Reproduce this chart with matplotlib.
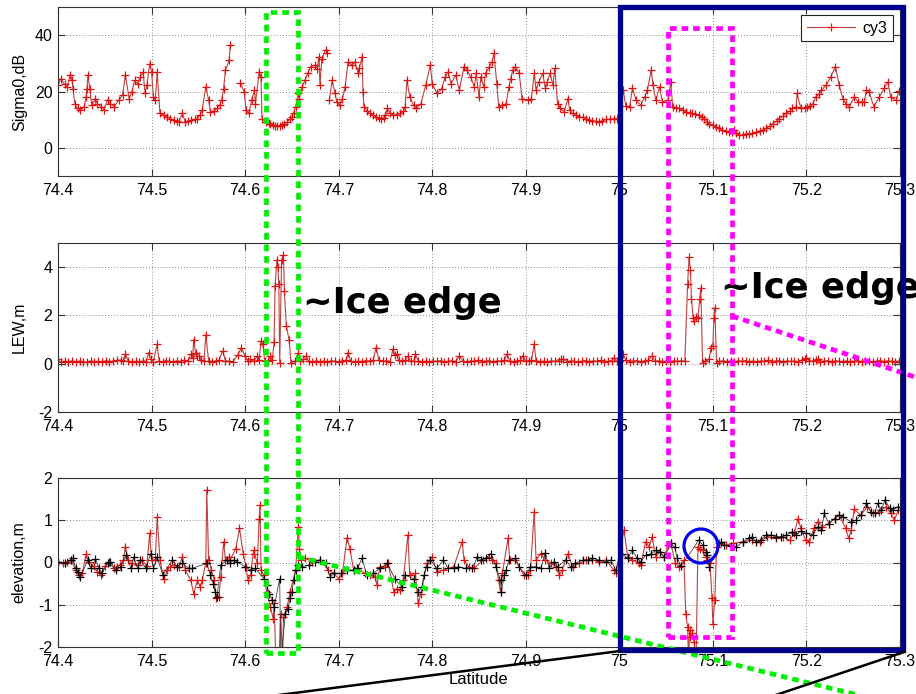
import numpy as np
import matplotlib
matplotlib.use("Agg")
import matplotlib.pyplot as plt
from matplotlib.lines import Line2D
from matplotlib.patches import Rectangle, Ellipse

plt.rcParams['font.family'] = ['Liberation Sans', 'DejaVu Sans']
plt.rcParams['axes.unicode_minus'] = False

# ---------------- track data (cycle 3) ----------------
nan = np.nan
sigma_lat = [
    74.400, 74.403, 74.407, 74.410, 74.413, 74.415, 74.416, 74.418, 74.421, 74.424,
    74.428, 74.430, 74.431, 74.432, 74.434, 74.436, 74.440, 74.442, 74.446, 74.449,
    74.453, 74.456, 74.460, 74.465, 74.469, 74.472, 74.476, 74.479, 74.482, 74.485,
    74.488, 74.491, 74.493, 74.495, 74.498, 74.500, 74.502, 74.504, 74.506, 74.509,
    74.513, 74.517, 74.520, 74.524, 74.527, 74.529, 74.533, 74.536, 74.539, 74.542,
    74.546, 74.549, 74.552, 74.554, 74.558, 74.561, 74.563, 74.567, 74.570, 74.573,
    74.575, 74.577, 74.579, 74.583, 74.584, 74.589, 74.595, 74.599, 74.601, 74.604,
    74.607, 74.610, 74.611, 74.615, 74.617, 74.618, 74.622, 74.625, 74.627, 74.630,
    74.632, 74.634, 74.637, 74.639, 74.642, 74.645, 74.648, 74.650, 74.652, 74.654,
    74.657, 74.658, 74.661, 74.664, 74.667, 74.670, 74.675, 74.677, 74.679, 74.680,
    74.682, 74.686, 74.688, 74.689, 74.690, 74.693, 74.696, 74.698, 74.701, 74.704,
    74.707, 74.710, 74.714, 74.717, 74.721, 74.722, 74.725, 74.726, 74.727, 74.730,
    74.733, 74.737, 74.740, 74.743, 74.745, 74.748, 74.750, 74.752, 74.755, 74.758,
    74.762, 74.766, 74.769, 74.771, 74.773, 74.776, 74.780, 74.783, 74.788, 74.793,
    74.798, 74.800, 74.805, 74.810, 74.814, 74.817, 74.820, 74.825, 74.829, 74.834,
    74.837, 74.841, 74.845, 74.847, 74.850, 74.852, 74.855, 74.857, 74.861, 74.864,
    74.866, 74.869, 74.871, 74.875, 74.879, 74.882, 74.884, 74.886, 74.889, 74.893,
    74.896, 74.902, 74.906, 74.909, 74.911, 74.914, 74.918, 74.921, 74.923, 74.926,
    74.929, 74.931, 74.934, 74.937, 74.941, 74.945, 74.947, 74.950, 74.954, 74.957,
    74.961, 74.964, 74.968, 74.971, 74.975, 74.978, 74.982, 74.986, 74.990, 74.994,
    74.998, 75.004, 75.007, 75.011, 75.014, 75.018, 75.023, 75.027, 75.030, 75.034,
    75.036, 75.039, 75.043, 75.046, 75.052, 75.055, 75.057, 75.061, 75.064, 75.068,
    75.071, 75.075, 75.078, 75.081, 75.085, 75.088, 75.091, 75.094, 75.096, 75.100,
    75.103, 75.107, 75.110, 75.114, 75.117, 75.120, 75.123, 75.125, 75.128, 75.132,
    75.135, 75.139, 75.142, 75.146, 75.150, 75.154, 75.157, 75.161, 75.164, 75.168,
    75.171, 75.175, 75.178, 75.182, 75.185, 75.189, 75.190, 75.194, 75.198, 75.201,
    75.204, 75.207, 75.210, 75.213, 75.216, 75.221, 75.226, 75.231, 75.235, 75.239,
    75.242, 75.246, 75.251, 75.255, 75.259, 75.262, 75.264, 75.267, 75.272, 75.278,
    75.283, 75.287, 75.290, 75.296, 75.299,
]
sigma0 = [
    22.2, 24.6, 22.5, 21.7, 26.0, 24.0, 21.0, 15.7, 14.0, 13.4,
    14.6, 18.0, 21.0, 25.8, 21.0, 15.1, 17.5, 15.7, 14.6, 13.6,
    17.0, 15.7, 14.6, 17.0, 18.7, 25.8, 17.5, 19.9, 24.0, 22.8,
    25.2, 27.0, 19.3, 22.2, 29.9, 27.0, 18.1, 17.0, 27.0, 12.2,
    11.5, 11.0, 10.3, 9.8, 9.4, 9.2, 12.2, 9.2, 9.5, 9.8,
    10.1, 10.4, 11.8, 13.4, 21.7, 17.0, 12.8, 13.2, 14.0, 15.2,
    17.0, 21.0, 27.6, 31.1, 36.4, nan, 23.1, 19.9, 13.4, 12.2,
    17.0, 20.5, 15.7, 27.0, 25.2, 10.4, 9.2, 8.9, 8.6, 8.2,
    7.9, 7.7, 7.6, 8.0, 8.6, 9.2, 10.2, 11.0, 12.5, 14.6,
    19.3, 17.5, 21.7, 24.0, 26.5, 28.8, 29.4, 28.0, 32.3, 22.2,
    31.7, 34.7, 33.5, nan, 16.9, 24.0, 19.5, 16.3, 15.1, 17.5,
    21.7, 30.5, 29.4, 30.5, 26.4, 28.2, 32.3, 19.9, 14.6, 13.2,
    12.2, 11.5, 11.0, 10.5, 10.2, 10.6, 11.6, 14.0, 12.4, 11.6,
    11.8, 12.2, 13.0, 14.6, 24.0, 18.1, 15.1, 14.0, 15.7, 22.2,
    29.4, 22.8, 19.3, 21.0, 25.2, 27.0, 22.8, 25.8, 20.5, 28.8,
    27.6, 25.2, 21.7, 26.4, 18.1, 25.2, 21.7, 26.4, 28.8, 30.5,
    33.5, 22.8, 14.6, 15.1, 15.7, 21.7, 24.6, 27.6, 28.8, 26.4,
    17.5, 16.9, 17.5, 26.4, 20.5, 23.4, 26.4, 21.1, 23.4, 26.4,
    22.2, 28.2, 15.7, 14.0, 12.8, 17.5, 13.4, 12.2, 11.5, 11.0,
    10.8, 10.4, 10.0, 9.6, 9.4, 9.2, 9.6, 10.1, 10.2, 10.4,
    10.4, 20.5, 14.8, 14.6, 21.1, 16.9, 15.1, 18.1, 20.5, 27.6,
    22.2, 16.9, 21.7, 16.3, 16.9, 23.4, 14.6, 14.3, 14.0, 13.4,
    12.8, 12.5, 12.2, 12.0, 11.6, 11.0, 10.4, 9.2, 8.4, 8.0,
    7.5, 6.9, 6.3, 6.0, 5.7, 5.5, 6.3, 5.2, 4.5, 4.6,
    4.9, 5.0, 5.1, 5.5, 6.0, 6.4, 6.9, 7.8, 8.6, 9.5,
    10.4, 11.3, 12.2, 13.1, 14.0, 14.6, 19.3, 14.0, 14.3, 14.6,
    15.0, 15.7, 18.1, 19.0, 20.5, 22.2, 25.2, 28.8, 22.2, 17.5,
    15.7, 14.6, 18.1, 16.3, 16.3, 16.3, 20.5, 19.9, 14.6, 18.1,
    21.1, 23.4, 18.1, 16.9, 20.2,
]

lew_lat = [
    74.400, 74.403, 74.407, 74.411, 74.415, 74.419, 74.423, 74.427, 74.431, 74.435,
    74.439, 74.443, 74.447, 74.451, 74.455, 74.459, 74.463, 74.467, 74.470, 74.472,
    74.475, 74.479, 74.483, 74.487, 74.491, 74.494, 74.497, 74.499, 74.502, 74.506,
    74.508, 74.512, 74.515, 74.519, 74.523, 74.527, 74.531, 74.535, 74.539, 74.542,
    74.544, 74.545, 74.547, 74.549, 74.551, 74.553, 74.556, 74.558, 74.561, 74.565,
    74.569, 74.572, 74.576, 74.579, 74.583, 74.587, 74.592, 74.596, 74.600, 74.603,
    74.605, 74.609, 74.613, 74.615, 74.617, 74.619, 74.621, 74.624, 74.627, 74.629,
    74.631, 74.632, 74.634, 74.635, 74.636, 74.637, 74.639, 74.641, 74.642, 74.644,
    74.647, 74.649, 74.653, 74.657, 74.659, 74.662, 74.665, 74.668, 74.672, 74.676,
    74.680, 74.684, 74.688, 74.692, 74.696, 74.700, 74.704, 74.708, 74.710, 74.713,
    74.717, 74.721, 74.725, 74.729, 74.733, 74.737, 74.740, 74.743, 74.747, 74.751,
    74.755, 74.758, 74.760, 74.762, 74.764, 74.768, 74.771, 74.774, 74.777, 74.780,
    74.782, 74.785, 74.789, 74.793, 74.797, 74.801, 74.805, 74.809, 74.813, 74.817,
    74.821, 74.825, 74.829, 74.833, 74.837, 74.841, 74.845, 74.849, 74.853, 74.857,
    74.861, 74.865, 74.869, 74.873, 74.877, 74.880, 74.883, 74.887, 74.891, 74.894,
    74.897, 74.900, 74.903, 74.906, 74.909, 74.911, 74.915, 74.919, 74.923, 74.927,
    74.931, 74.935, 74.938, 74.940, 74.944, 74.948, 74.952, 74.956, 74.960, 74.964,
    74.968, 74.972, 74.976, 74.980, 74.984, 74.988, 74.992, 74.994, 74.997, 75.001,
    75.004, 75.007, 75.011, 75.015, 75.019, 75.023, 75.027, 75.031, 75.035, 75.038,
    75.042, 75.046, 75.050, 75.054, 75.058, 75.062, 75.066, 75.070, 75.073, 75.0745,
    75.076, 75.077, 75.079, 75.080, 75.082, 75.084, 75.086, 75.087, 75.089, 75.092,
    75.096, 75.098, 75.100, 75.101, 75.102, 75.104, 75.107, 75.111, 75.115, 75.119,
    75.123, 75.127, 75.131, 75.135, 75.139, 75.143, 75.147, 75.151, 75.155, 75.159,
    75.163, 75.167, 75.171, 75.175, 75.179, 75.183, 75.187, 75.191, 75.195, 75.198,
    75.200, 75.203, 75.207, 75.210, 75.212, 75.215, 75.219, 75.223, 75.227, 75.231,
    75.235, 75.239, 75.243, 75.247, 75.251, 75.255, 75.259, 75.263, 75.267, 75.271,
    75.275, 75.279, 75.283, 75.287, 75.291, 75.295, 75.299,
]
lew = [
    0.18, 0.06, 0.10, 0.08, 0.12, 0.07, 0.11, 0.09, 0.06, 0.12,
    0.08, 0.10, 0.07, 0.13, 0.09, 0.11, 0.14, 0.16, 0.10, 0.40,
    0.12, 0.08, 0.10, 0.06, 0.12, 0.09, 0.46, 0.20, 0.09, 0.80,
    0.11, 0.07, 0.13, 0.10, 0.08, 0.12, 0.09, 0.14, 0.10, 0.40,
    0.25, 1.00, 0.45, 0.32, 0.30, 0.15, 0.10, 1.20, 0.12, 0.09,
    0.11, 0.14, 0.53, 0.12, 0.10, 0.08, 0.35, 0.67, 0.30, 0.12,
    0.18, 0.10, 0.32, 0.15, 0.95, 0.80, 0.10, 0.12, 0.30, 0.15,
    0.88, 3.20, 4.30, 4.00, 3.30, 0.02, 4.30, 4.50, 3.00, 1.57,
    1.00, 0.04, 0.10, 0.46, 0.12, 0.18, 0.30, 0.10, 0.08, 0.12,
    0.09, 0.11, 0.07, 0.13, 0.10, 0.08, 0.12, 0.15, 0.46, 0.10,
    0.07, 0.11, 0.09, 0.13, 0.10, 0.16, 0.67, 0.14, 0.10, 0.12,
    0.09, 0.60, 0.35, 0.40, 0.15, 0.11, 0.14, 0.32, 0.12, 0.10,
    0.40, 0.13, 0.09, 0.11, 0.08, 0.12, 0.10, 0.13, 0.08, 0.10,
    0.12, 0.09, 0.32, 0.11, 0.08, 0.12, 0.10, 0.14, 0.09, 0.11,
    0.13, 0.08, 0.12, 0.10, 0.14, 0.40, 0.11, 0.09, 0.12, 0.15,
    0.32, 0.12, 0.10, 0.14, 0.80, 0.12, 0.09, 0.11, 0.08, 0.12,
    0.10, 0.13, 0.18, 0.20, 0.09, 0.12, 0.10, 0.07, 0.11, 0.13,
    0.09, 0.12, 0.10, 0.14, 0.08, 0.11, 0.13, 0.25, 0.10, 0.12,
    0.40, 0.14, 0.09, 0.11, 0.13, 0.08, 0.12, 0.15, 0.32, 0.10,
    0.12, 0.09, 0.11, 0.08, 0.12, 0.10, 0.13, 0.10, 3.30, 4.40,
    3.90, 2.70, 1.90, 1.75, 1.95, 1.90, 2.70, 3.15, 0.04, 0.10,
    0.18, 0.67, 0.74, 1.90, 2.30, 0.04, 0.10, 0.12, 0.09, 0.11,
    0.08, 0.12, 0.10, 0.13, 0.09, 0.11, 0.08, 0.12, 0.10, 0.14,
    0.09, 0.11, 0.13, 0.08, 0.12, 0.10, 0.11, 0.09, 0.14, 0.18,
    0.25, 0.12, 0.10, 0.14, 0.18, 0.09, 0.11, 0.13, 0.08, 0.12,
    0.10, 0.09, 0.12, 0.08, 0.11, 0.13, 0.09, 0.12, 0.10, 0.08,
    0.11, 0.13, 0.09, 0.12, 0.10, 0.08, 0.11,
]

# raw elevation (red) and retracked/corrected elevation (black)
elev_lat = [
    74.400, 74.405, 74.410, 74.414, 74.419, 74.422, 74.426, 74.430, 74.433, 74.438,
    74.442, 74.446, 74.450, 74.454, 74.460, 74.463, 74.466, 74.470, 74.472, 74.475,
    74.479, 74.485, 74.490, 74.495, 74.498, 74.500, 74.504, 74.506, 74.509, 74.513,
    74.517, 74.520, 74.524, 74.529, 74.533, 74.536, 74.542, 74.545, 74.549, 74.552,
    74.554, 74.558, 74.559, 74.561, 74.564, 74.567, 74.569, 74.572, 74.574, 74.577,
    74.579, 74.583, 74.584, 74.590, 74.594, 74.598, 74.601, 74.603, 74.606, 74.609,
    74.610, 74.613, 74.615, 74.616, 74.617, 74.620, 74.623, 74.627, 74.630, 74.631,
    74.633, 74.636, 74.638, 74.640, 74.641, 74.645, 74.648, 74.654, 74.657, 74.658,
    74.660, 74.664, 74.672, 74.680, 74.689, 74.695, 74.700, 74.704, 74.709, 74.712,
    74.716, 74.721, 74.728, 74.734, 74.739, 74.741, 74.744, 74.750, 74.753, 74.759,
    74.762, 74.766, 74.769, 74.774, 74.776, 74.782, 74.785, 74.788, 74.794, 74.800,
    74.805, 74.812, 74.823, 74.832, 74.834, 74.839, 74.845, 74.854, 74.861, 74.864,
    74.868, 74.871, 74.873, 74.875, 74.881, 74.883, 74.889, 74.898, 74.902, 74.905,
    74.909, 74.911, 74.916, 74.921, 74.927, 74.932, 74.936, 74.939, 74.945, 74.950,
    74.957, 74.964, 74.971, 74.978, 74.986, 74.994, 74.996, 75.005, 75.009, 75.014,
    75.021, 75.023, 75.028, 75.032, 75.035, 75.039, 75.043, 75.048, 75.052, 75.055,
    75.060, 75.064, 75.069, 75.071, 75.073, 75.074, 75.075, 75.076, 75.078, 75.080,
    75.082, 75.084, 75.086, 75.089, 75.093, 75.094, 75.097, 75.099, 75.100, 75.102,
    75.104, 75.106, 75.114, 75.121, 75.132, 75.142, 75.150, 75.158, 75.167, 75.175,
    75.182, 75.187, 75.191, 75.194, 75.199, 75.203, 75.208, 75.212, 75.217, 75.224,
    75.230, 75.235, 75.242, 75.245, 75.248, 75.251, 75.258, 75.265, 75.271, 75.278,
    75.285, 75.290, 75.294, 75.298,
]
elev_raw = [
    0.02, -0.02, 0.02, 0.06, -0.18, -0.30, -0.26, 0.19, 0.02, -0.09,
    -0.22, -0.30, -0.09, 0.02, -0.14, -0.10, -0.06, 0.06, 0.37, 0.06,
    -0.02, -0.06, 0.06, -0.09, 0.69, 0.06, 0.06, 1.08, 0.06, -0.38,
    -0.18, -0.10, -0.06, -0.10, 0.13, -0.18, -0.42, -0.74, -0.42, -0.58,
    -0.42, -0.02, 1.72, 0.06, -0.18, -0.42, -0.85, -0.81, -0.34, 0.49,
    0.06, 0.13, 0.06, 0.33, 0.81, 0.21, -0.10, -0.42, -0.30, 0.29,
    0.21, -0.02, 1.04, 1.36, -0.18, -0.30, -0.70, -1.05, -1.33, -0.97,
    -2.40, -2.40, -1.21, -2.40, -1.29, -1.05, -0.70, -0.18, 0.85, 0.33,
    0.06, 0.10, 0.02, 0.06, -0.18, -0.26, -0.38, -0.26, 0.59, 0.33,
    -0.18, -0.14, -0.26, -0.30, -0.34, -0.54, -0.10, -0.10, -0.02, -0.70,
    -0.62, -0.66, -0.42, 0.65, -0.30, -0.26, -0.97, -0.74, -0.02, 0.13,
    -0.22, -0.18, -0.10, 0.49, 0.06, -0.10, -0.14, 0.06, 0.13, 0.06,
    -0.02, -0.42, -0.70, -0.26, 0.57, 0.06, 0.06, -0.30, -0.30, -0.18,
    1.20, 0.06, 0.21, 0.06, -0.02, -0.10, -0.30, -0.18, 0.21, -0.10,
    -0.02, 0.06, 0.06, 0.02, 0.06, -0.18, -0.26, 0.77, 0.13, 0.06,
    -0.02, -0.06, 0.49, 0.37, 0.61, 0.13, 0.25, 0.13, 0.41, 0.45,
    -0.02, -0.10, 0.06, -1.21, -1.53, -2.40, -1.60, -1.76, -1.68, -1.88,
    -2.40, 0.37, 0.33, 0.29, 0.13, 0.06, -0.02, -0.85, -1.45, -0.89,
    0.37, 0.45, 0.41, 0.45, 0.49, 0.53, 0.49, 0.61, 0.57, 0.61,
    0.53, 0.69, 1.04, 0.81, 0.53, 0.49, 0.81, 0.96, 0.85, 0.92,
    1.04, 1.12, 0.81, 0.57, 0.77, 1.26, 1.12, 1.32, 1.16, 1.20,
    1.32, 1.16, 1.00, 1.24,
]

corr_lat = [
    74.400, 74.408, 74.414, 74.416, 74.419, 74.421, 74.424, 74.432, 74.435, 74.440,
    74.444, 74.447, 74.453, 74.456, 74.462, 74.467, 74.473, 74.478, 74.481, 74.485,
    74.488, 74.494, 74.499, 74.502, 74.506, 74.512, 74.522, 74.527, 74.533, 74.540,
    74.543, 74.559, 74.563, 74.566, 74.568, 74.570, 74.574, 74.581, 74.584, 74.588,
    74.591, 74.600, 74.606, 74.611, 74.620, 74.623, 74.626, 74.629, 74.631, 74.637,
    74.638, 74.643, 74.646, 74.648, 74.650, 74.652, 74.654, 74.657, 74.661, 74.668,
    74.675, 74.680, 74.686, 74.691, 74.695, 74.702, 74.709, 74.716, 74.720, 74.725,
    74.730, 74.737, 74.744, 74.752, 74.760, 74.768, 74.771, 74.780, 74.785, 74.789,
    74.791, 74.794, 74.798, 74.805, 74.812, 74.817, 74.823, 74.828, 74.836, 74.843,
    74.848, 74.852, 74.857, 74.863, 74.868, 74.873, 74.874, 74.877, 74.879, 74.882,
    74.889, 74.893, 74.900, 74.905, 74.911, 74.916, 74.921, 74.925, 74.930, 74.934,
    74.943, 74.948, 74.953, 74.961, 74.966, 74.971, 74.978, 74.986, 74.991, 74.996,
    75.003, 75.009, 75.014, 75.019, 75.023, 75.028, 75.034, 75.039, 75.043, 75.048,
    75.055, 75.059, 75.062, 75.066, 75.085, 75.089, 75.093, 75.094, 75.096, 75.109,
    75.112, 75.119, 75.125, 75.132, 75.139, 75.142, 75.146, 75.151, 75.157, 75.162,
    75.167, 75.173, 75.178, 75.185, 75.189, 75.194, 75.199, 75.207, 75.212, 75.216,
    75.219, 75.224, 75.230, 75.235, 75.239, 75.248, 75.253, 75.258, 75.264, 75.269,
    75.273, 75.276, 75.280, 75.284, 75.289, 75.292, 75.298,
]
elev_corr = [
    0.02, -0.02, 0.07, 0.10, -0.14, -0.22, -0.34, 0.06, -0.14, 0.08,
    -0.14, -0.26, -0.02, 0.02, -0.18, -0.10, 0.17, -0.14, 0.13, -0.14,
    0.06, -0.14, 0.21, -0.14, 0.13, -0.30, 0.06, -0.10, -0.02, -0.14,
    -0.14, -0.02, -0.30, -0.50, -0.70, -0.81, -0.06, 0.06, -0.02, 0.06,
    0.02, -0.10, -0.18, -0.14, -0.38, -0.54, -0.74, -0.89, -1.05, -0.38,
    -2.40, -1.21, -1.09, -0.85, -0.70, -0.42, -0.18, -0.06, -0.10, -0.06,
    0.02, 0.06, -0.02, -0.34, -0.26, -0.26, -0.18, -0.18, -0.14, 0.10,
    -0.30, -0.26, -0.14, -0.02, -0.38, -0.58, -0.30, -0.38, -0.70, -0.58,
    -0.30, -0.10, 0.06, -0.14, 0.06, -0.14, -0.14, -0.10, -0.14, -0.14,
    0.13, 0.06, 0.10, 0.21, -0.10, -0.42, -0.70, -0.30, -0.18, 0.06,
    0.10, -0.10, -0.30, -0.10, -0.10, -0.14, 0.23, -0.14, 0.02, -0.10,
    0.06, -0.10, -0.02, 0.06, 0.06, 0.10, 0.06, 0.02, 0.06, -0.18,
    0.21, 0.10, 0.29, 0.10, 0.02, 0.17, 0.21, 0.29, 0.25, 0.13,
    0.45, 0.37, 0.10, -0.09, 0.53, 0.41, 0.25, 0.17, -0.10, 0.49,
    0.41, 0.39, 0.37, 0.49, 0.57, 0.61, 0.49, 0.53, 0.65, 0.65,
    0.61, 0.61, 0.65, 0.73, 0.65, 0.75, 0.69, 0.65, 0.85, 0.77,
    1.16, 0.92, 1.04, 1.12, 1.08, 0.96, 1.00, 1.12, 1.40, 1.20,
    1.16, 1.40, 1.24, 1.48, 1.28, 1.24, 1.32,
]

lat_ticks = [74.4, 74.5, 74.6, 74.7, 74.8, 74.9, 75.0, 75.1, 75.2, 75.3]
lat_tick_labels = ['74.4', '74.5', '74.6', '74.7', '74.8', '74.9', '75', '75.1', '75.2', '75.3']

# ---------------- figure layout ----------------
W, H = 916, 694
fig = plt.figure(figsize=(W / 100, H / 100), dpi=100)


def fx(px):
    return px / W


def fy(py):
    return 1 - py / H


AX_L, AX_R = 58, 900
panels = [(7, 176), (243, 412), (478, 647)]
axes = []
for top, bot in panels:
    ax = fig.add_axes([fx(AX_L), fy(bot), (AX_R - AX_L) / W, (bot - top) / H])
    axes.append(ax)

RED_LINE = '#c04040'
RED_MARK = '#e01010'
TICK_FS = 11.5


def style(ax, ylim, yticks, ylabel):
    ax.set_xlim(74.4, 75.3)
    ax.set_ylim(*ylim)
    ax.set_xticks(lat_ticks)
    ax.set_xticklabels(lat_tick_labels)
    ax.set_yticks(yticks)
    ax.tick_params(direction='in', top=True, right=True, length=5, width=0.8,
                   labelsize=TICK_FS, color='#333333')
    ax.tick_params(axis='x', pad=5)
    ax.tick_params(axis='y', pad=4)
    ax.grid(True, linestyle=(0, (1, 2.5)), color='#666666', linewidth=0.6)
    for s in ax.spines.values():
        s.set_color('#333333')
        s.set_linewidth(0.8)
    ax.set_ylabel(ylabel, fontsize=TICK_FS)
    ax.yaxis.set_label_coords(-0.037, 0.5)


ax1, ax2, ax3 = axes
mk = dict(marker='+', markersize=5.5, markeredgewidth=0.9, markeredgecolor=RED_MARK,
          color=RED_LINE, linewidth=0.8)

ax1.plot(sigma_lat, sigma0, label='cy3', **mk)
style(ax1, (-10, 50), [0, 20, 40], 'Sigma0,dB')
leg = ax1.legend(loc='upper right', bbox_to_anchor=(0.992, 0.953), borderaxespad=0,
                 fontsize=TICK_FS, frameon=True, fancybox=False, framealpha=1,
                 edgecolor='#222222', handlelength=3.0, handletextpad=0.5,
                 borderpad=0.35, numpoints=1)
leg.get_frame().set_linewidth(0.8)

ax2.plot(lew_lat, lew, **mk)
style(ax2, (-2, 5), [-2, 0, 2, 4], 'LEW,m')

ax3.plot(elev_lat, elev_raw, **mk)
ax3.plot(corr_lat, elev_corr, color='#222222', linewidth=0.5, marker='+',
         markersize=5.5, markeredgewidth=0.9, markeredgecolor='black')
style(ax3, (-2, 2), [-2, -1, 0, 1, 2], 'elevation,m')
ax3.set_xlabel('Latitude', fontsize=TICK_FS + 0.5)
ax3.xaxis.set_label_coords(0.499, -0.15)

# ---------------- annotations ----------------
dots = (0, (1.4, 1.05))


def seg(p0, p1, **kw):
    fig.add_artist(Line2D([fx(p0[0]), fx(p1[0])], [fy(p0[1]), fy(p1[1])],
                          transform=fig.transFigure, **kw))


def box(x0, y0, x1, y1, **kw):
    fig.add_artist(Rectangle((fx(x0), fy(y1)), fx(x1) - fx(x0), fy(y0) - fy(y1),
                             transform=fig.transFigure, fill=False, **kw))


fig.text(fx(303), fy(313), '~Ice edge', fontsize=25.5, fontweight='bold',
         family='DejaVu Sans', ha='left', va='baseline', zorder=1.5)
fig.text(fx(721), fy(298), '~Ice edge', fontsize=25.5, fontweight='bold',
         family='DejaVu Sans', ha='left', va='baseline', zorder=1.5)

GREEN = '#00ee00'
MAGENTA = '#ff00ff'
NAVY = '#00008f'

box(266, 12, 298, 653, edgecolor=GREEN, linewidth=3.4, linestyle=dots, zorder=4)
seg((298, 557), (862, 696), color=GREEN, linewidth=3.4, linestyle=dots,
    dash_capstyle='butt', zorder=4)

box(668, 28, 732, 637, edgecolor=MAGENTA, linewidth=3.4, linestyle=dots, zorder=4)
seg((732, 316), (918, 378), color=MAGENTA, linewidth=3.4, linestyle=dots,
    dash_capstyle='butt', zorder=4)

box(620, 7, 903, 650, edgecolor=NAVY, linewidth=3.8, zorder=5)
seg((620, 651), (240, 700), color='black', linewidth=1.8, zorder=5)
seg((904, 652), (770, 697), color='black', linewidth=1.8, zorder=5)

fig.add_artist(Ellipse((fx(701), fy(546)), 34 / W, 34 / H, transform=fig.transFigure,
                       fill=False, edgecolor='#0000ee', linewidth=2.3, zorder=5))

fig.savefig('out.png', dpi=100)
